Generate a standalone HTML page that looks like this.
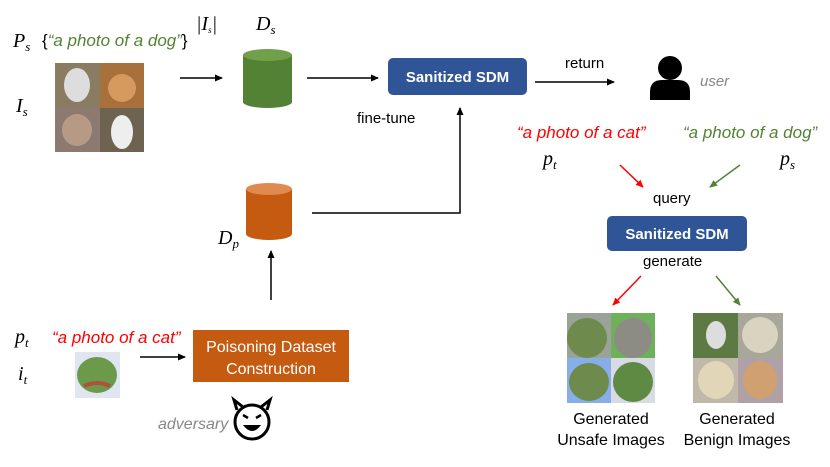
<!DOCTYPE html>
<html><head><meta charset="utf-8"><style>
html,body{margin:0;padding:0;background:#fff;}
svg{display:block;}
.m{font-family:"Liberation Serif",serif;font-style:italic;font-size:20px;fill:#000;}
.s{font-family:"Liberation Sans",sans-serif;}
</style></head><body>
<svg width="830" height="467" viewBox="0 0 830 467" xmlns="http://www.w3.org/2000/svg">
<defs>
<marker id="ak" markerWidth="8" markerHeight="8" refX="7" refY="4" orient="auto" markerUnits="userSpaceOnUse"><path d="M0,0.5 L8,4 L0,7.5z" fill="#000"/></marker>
<marker id="ar" markerWidth="8" markerHeight="8" refX="7" refY="4" orient="auto" markerUnits="userSpaceOnUse"><path d="M0,0.5 L8,4 L0,7.5z" fill="#f00"/></marker>
<marker id="ag" markerWidth="8" markerHeight="8" refX="7" refY="4" orient="auto" markerUnits="userSpaceOnUse"><path d="M0,0.5 L8,4 L0,7.5z" fill="#548235"/></marker>
</defs>
<!-- top left -->
<text x="13" y="47" class="m">P<tspan font-size="13" dy="4">s</tspan></text>
<text x="42" y="46" class="s" font-size="17">{<tspan fill="#548235" font-style="italic">“a photo of a dog”</tspan>}</text>
<text x="196" y="30" class="m" font-size="13">|I<tspan font-size="9" dy="3">s</tspan><tspan dy="-3">|</tspan></text>
<text x="16" y="112" class="m">I<tspan font-size="13" dy="4">s</tspan></text>
<rect x="55" y="63" width="45" height="45" fill="#8a7b63"/><rect x="100" y="63" width="44" height="45" fill="#a8703a"/>
<rect x="55" y="108" width="45" height="44" fill="#8c7a70"/><rect x="100" y="108" width="44" height="44" fill="#6e6250"/>
<ellipse cx="77" cy="85" rx="13" ry="17" fill="#ddd"/><ellipse cx="122" cy="88" rx="14" ry="14" fill="#d69a5e"/>
<ellipse cx="77" cy="130" rx="15" ry="16" fill="#b69a86"/><ellipse cx="122" cy="132" rx="11" ry="17" fill="#eee"/>
<line x1="180" y1="78" x2="222" y2="78" stroke="#000" stroke-width="1.5" marker-end="url(#ak)"/>
<!-- Ds cylinder -->
<text x="256" y="30" class="m">D<tspan font-size="13" dy="4">s</tspan></text>
<path d="M243,55 V102 A24.5,6 0 0 0 292,102 V55 Z" fill="#548235"/>
<ellipse cx="267.5" cy="55" rx="24.5" ry="6" fill="#70a04a"/>
<line x1="307" y1="78" x2="378" y2="78" stroke="#000" stroke-width="1.5" marker-end="url(#ak)"/>
<rect x="388" y="58" width="139" height="37" rx="5" fill="#2F5597"/>
<text x="457.5" y="82" class="s" font-size="15" font-weight="bold" fill="#fff" text-anchor="middle">Sanitized SDM</text>
<text x="565" y="68" class="s" font-size="15">return</text>
<line x1="535" y1="82" x2="614" y2="82" stroke="#000" stroke-width="1.5" marker-end="url(#ak)"/>
<circle cx="670" cy="68" r="12" fill="#000"/>
<path d="M650,100 V92 Q650,80 662,80 H678 Q690,80 690,92 V100 Z" fill="#000"/>
<text x="700" y="86" class="s" font-size="15" font-style="italic" fill="#888">user</text>
<text x="357" y="123" class="s" font-size="15">fine-tune</text>
<!-- Dp -->
<text x="218" y="244" class="m">D<tspan font-size="13" dy="4">p</tspan></text>
<path d="M246,189 V234 A23,6 0 0 0 292,234 V189 Z" fill="#C55A11"/>
<ellipse cx="269" cy="189" rx="23" ry="6" fill="#e08a50"/>
<polyline points="312,213 460,213 460,108" fill="none" stroke="#000" stroke-width="1.5" marker-end="url(#ak)"/>
<line x1="271" y1="300" x2="271" y2="251" stroke="#000" stroke-width="1.5" marker-end="url(#ak)"/>
<!-- bottom left -->
<text x="15" y="343" class="m">p<tspan font-size="13" dy="4">t</tspan></text>
<text x="52" y="343" class="s" font-size="17" font-style="italic" fill="#f00">“a photo of a cat”</text>
<text x="18" y="380" class="m">i<tspan font-size="13" dy="4">t</tspan></text>
<rect x="75" y="352" width="45" height="46" fill="#dfe6f2"/>
<ellipse cx="97" cy="375" rx="20" ry="18" fill="#6a9a4a"/>
<path d="M84,386 Q97,380 110,386" stroke="#b0503a" stroke-width="4" fill="none"/>
<line x1="140" y1="357" x2="185" y2="357" stroke="#000" stroke-width="1.5" marker-end="url(#ak)"/>
<rect x="193" y="330" width="156" height="52" fill="#C55A11"/>
<text x="271" y="352" class="s" font-size="16" fill="#fff" text-anchor="middle">Poisoning Dataset</text>
<text x="271" y="374" class="s" font-size="16" fill="#fff" text-anchor="middle">Construction</text>
<text x="158" y="429" class="s" font-size="16" font-style="italic" fill="#888">adversary</text>
<circle cx="252" cy="422" r="17" fill="#fff" stroke="#000" stroke-width="3"/>
<path d="M237,410 L234,400 L243,407 M267,410 L270,400 L261,407" stroke="#000" stroke-width="3" fill="none"/>
<path d="M243,425 Q252,437 261,425 Z" fill="#000"/>
<path d="M243,415 l5,3 M261,415 l-5,3" stroke="#000" stroke-width="2.5"/>
<!-- right -->
<text x="517" y="138" class="s" font-size="17" font-style="italic" fill="#f00">“a photo of a cat”</text>
<text x="683" y="138" class="s" font-size="17" font-style="italic" fill="#548235">“a photo of a dog”</text>
<text x="543" y="165" class="m">p<tspan font-size="13" dy="4">t</tspan></text>
<text x="780" y="165" class="m">p<tspan font-size="13" dy="4">s</tspan></text>
<line x1="620" y1="165" x2="643" y2="187" stroke="#f00" stroke-width="1.5" marker-end="url(#ar)"/>
<line x1="740" y1="165" x2="710" y2="187" stroke="#548235" stroke-width="1.5" marker-end="url(#ag)"/>
<text x="653" y="203" class="s" font-size="15">query</text>
<rect x="607" y="216" width="140" height="35" rx="5" fill="#2F5597"/>
<text x="677" y="239" class="s" font-size="15" font-weight="bold" fill="#fff" text-anchor="middle">Sanitized SDM</text>
<text x="643" y="266" class="s" font-size="15">generate</text>
<line x1="641" y1="276" x2="613" y2="305" stroke="#f00" stroke-width="1.5" marker-end="url(#ar)"/>
<line x1="716" y1="276" x2="740" y2="305" stroke="#548235" stroke-width="1.5" marker-end="url(#ag)"/>
<rect x="567" y="313" width="44" height="45" fill="#9aa29a"/><rect x="611" y="313" width="44" height="45" fill="#6fb05a"/>
<rect x="567" y="358" width="44" height="45" fill="#86aee8"/><rect x="611" y="358" width="44" height="45" fill="#d8dbe4"/>
<ellipse cx="587" cy="338" rx="20" ry="20" fill="#6e8a4c"/><ellipse cx="633" cy="338" rx="19" ry="20" fill="#8c8c84"/>
<ellipse cx="589" cy="382" rx="20" ry="19" fill="#6e8a4c"/><ellipse cx="633" cy="382" rx="20" ry="20" fill="#5f8a44"/>
<rect x="693" y="313" width="45" height="45" fill="#5d7a45"/><rect x="738" y="313" width="45" height="45" fill="#a8a89a"/>
<rect x="693" y="358" width="45" height="45" fill="#c0b8a8"/><rect x="738" y="358" width="45" height="45" fill="#b0a0a8"/>
<ellipse cx="716" cy="335" rx="10" ry="14" fill="#ddd"/><ellipse cx="760" cy="335" rx="18" ry="18" fill="#d8d4c0"/>
<ellipse cx="716" cy="380" rx="18" ry="19" fill="#e2d6b8"/><ellipse cx="760" cy="380" rx="17" ry="19" fill="#d0a070"/>
<text x="611" y="424" class="s" font-size="16" text-anchor="middle">Generated</text>
<text x="611" y="445" class="s" font-size="16" text-anchor="middle">Unsafe Images</text>
<text x="737" y="424" class="s" font-size="16" text-anchor="middle">Generated</text>
<text x="737" y="445" class="s" font-size="16" text-anchor="middle">Benign Images</text>
</svg>
</body></html>
